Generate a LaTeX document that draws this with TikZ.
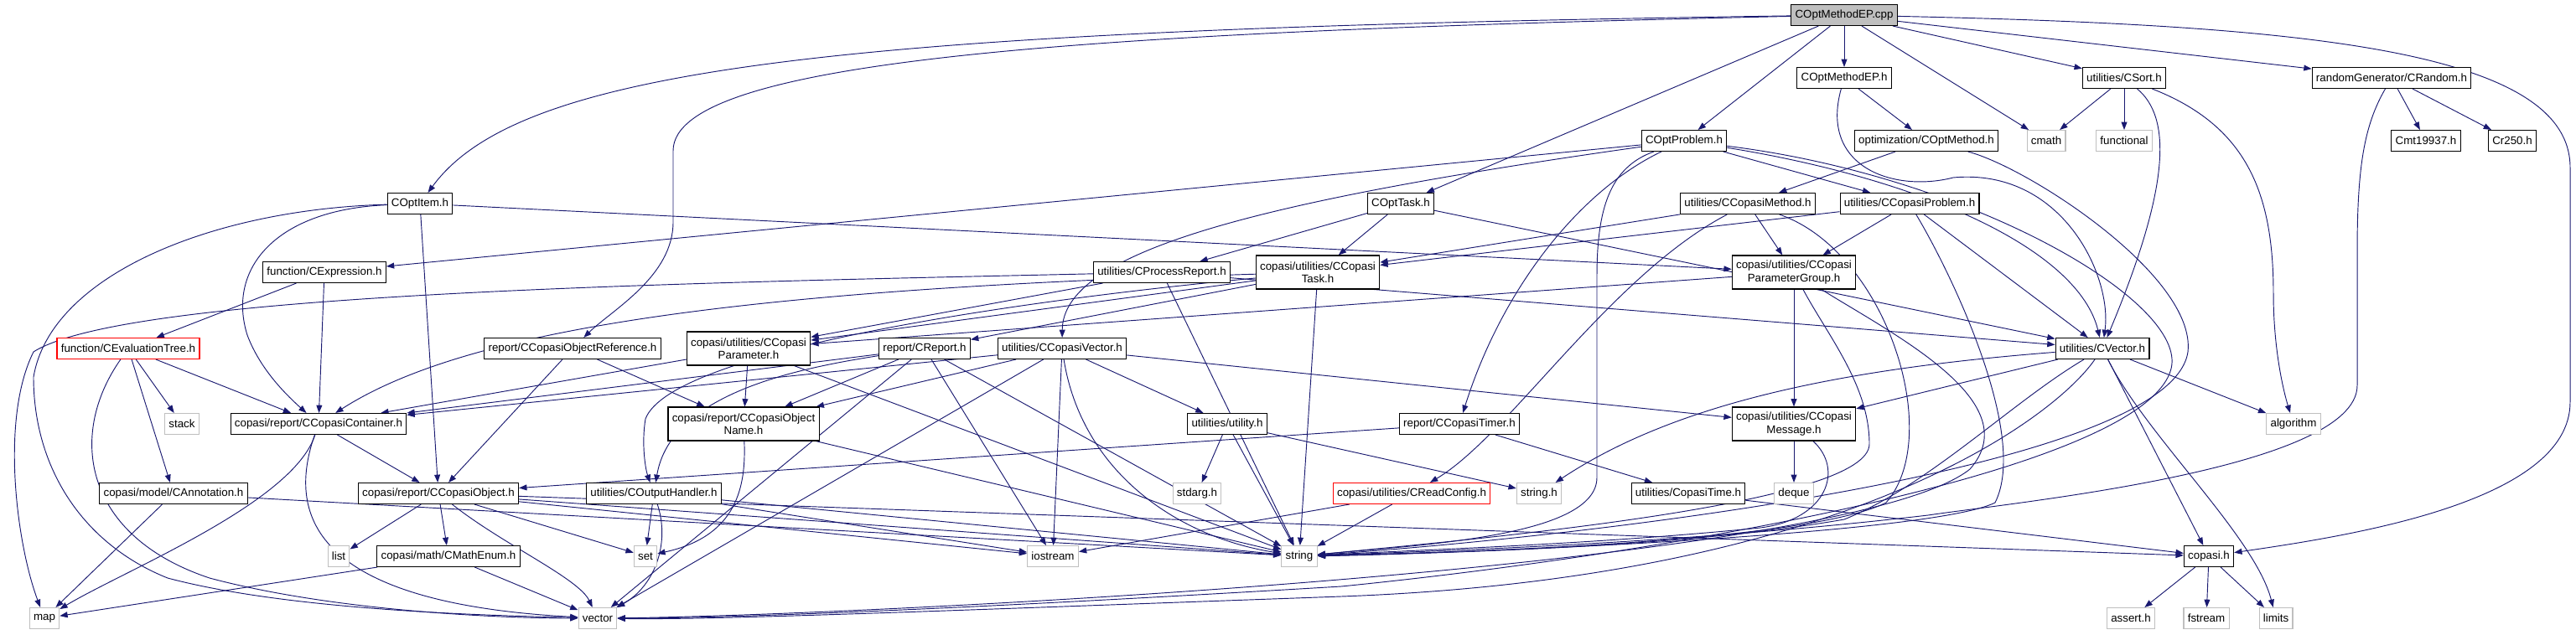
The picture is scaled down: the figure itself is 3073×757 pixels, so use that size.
\documentclass[tikz,border=0pt]{standalone}
\usepackage{fontspec}
\setmainfont{Liberation Sans}
\usepackage{tikz}
\usetikzlibrary{arrows.meta,backgrounds}
\definecolor{edgeblue}{HTML}{191970}
\definecolor{sysgray}{HTML}{BFBFBF}
\definecolor{rootgray}{HTML}{BFBFBF}
\tikzset{
  hdr/.style={draw=black, fill=white, line width=0.8pt, inner xsep=3.6pt,
    inner ysep=0pt, minimum height=18.75pt, align=center,
    font=\fontsize{10}{11.5}\selectfont},
  twohdr/.style={hdr, minimum height=30pt},
  syshdr/.style={hdr, draw=sysgray},
  redhdr/.style={hdr, draw=red},
  roothdr/.style={hdr, fill=rootgray},
  inc/.style={-{Triangle[length=7pt,width=5.2pt]}, draw=edgeblue, line width=0.7pt}
}

\begin{document}
\begin{tikzpicture}[x=0.75pt,y=-0.75pt]
  \useasboundingbox (0,0) rectangle (3073,757);
  % rank 0 and 1
  \node[roothdr] (cpp) at (2200,18) {COptMethodEP.cpp};
  \node[hdr] (epH) at (2200,93) {COptMethodEP.h};
  \node[hdr] (csort) at (2534,93) {utilities/CSort.h};
  \node[hdr] (crand) at (2853,93) {randomGenerator/CRandom.h};
  % rank 2
  \node[hdr] (optprob) at (2009,168) {COptProblem.h};
  \node[hdr] (optmeth) at (2298,168) {optimization/COptMethod.h};
  \node[syshdr] (cmath) at (2441,168) {cmath};
  \node[syshdr] (functional) at (2534,168) {functional};
  \node[hdr] (mt) at (2894,168) {Cmt19937.h};
  \node[hdr] (r250) at (2997,168) {Cr250.h};
  % rank 3
  \node[hdr] (optitem) at (501,243) {COptItem.h};
  \node[hdr] (opttask) at (1671,243) {COptTask.h};
  \node[hdr] (cmeth) at (2085,243) {utilities/CCopasiMethod.h};
  \node[hdr] (cprob) at (2278,243) {utilities/CCopasiProblem.h};
  % rank 4
  \node[hdr] (expr) at (387,325) {function/CExpression.h};
  \node[hdr] (procrep) at (1386,325) {utilities/CProcessReport.h};
  \node[twohdr] (ctask) at (1572,325) {copasi/utilities/CCopasi\\Task.h};
  \node[twohdr] (pgroup) at (2140,325) {copasi/utilities/CCopasi\\ParameterGroup.h};
  % rank 5
  \node[redhdr] (evtree) at (153,416) {function/CEvaluationTree.h};
  \node[hdr] (objref) at (683,416) {report/CCopasiObjectReference.h};
  \node[twohdr] (param) at (893,416) {copasi/utilities/CCopasi\\Parameter.h};
  \node[hdr] (report) at (1103,416) {report/CReport.h};
  \node[hdr] (cvec) at (1267,416) {utilities/CCopasiVector.h};
  \node[hdr] (vecH) at (2508,416) {utilities/CVector.h};
  % rank 6
  \node[syshdr] (stack) at (217,506) {stack};
  \node[hdr] (cont) at (380,506) {copasi/report/CCopasiContainer.h};
  \node[twohdr] (objname) at (887,506) {copasi/report/CCopasiObject\\Name.h};
  \node[hdr] (utility) at (1464,506) {utilities/utility.h};
  \node[hdr] (timer) at (1741,506) {report/CCopasiTimer.h};
  \node[twohdr] (msg) at (2140,506) {copasi/utilities/CCopasi\\Message.h};
  \node[syshdr] (algo) at (2736,506) {algorithm};
  % rank 7
  \node[hdr] (annot) at (207,589) {copasi/model/CAnnotation.h};
  \node[hdr] (cobj) at (523,589) {copasi/report/CCopasiObject.h};
  \node[hdr] (outh) at (780,589) {utilities/COutputHandler.h};
  \node[syshdr] (stdarg) at (1428,589) {stdarg.h};
  \node[redhdr] (readcfg) at (1684,589) {copasi/utilities/CReadConfig.h};
  \node[syshdr] (stringh) at (1836,589) {string.h};
  \node[hdr] (ctime) at (2014,589) {utilities/CopasiTime.h};
  \node[syshdr] (deque) at (2140,589) {deque};
  % rank 8
  \node[syshdr] (list) at (404,664) {list};
  \node[hdr] (mathenum) at (535,664) {copasi/math/CMathEnum.h};
  \node[syshdr] (set) at (770,664) {set};
  \node[syshdr] (iostream) at (1256,664) {iostream};
  \node[syshdr] (string) at (1550,664) {string};
  \node[hdr] (copasi) at (2635,664) {copasi.h};
  % rank 9
  \node[syshdr] (map) at (53,738) {map};
  \node[syshdr] (vector) at (713,738) {vector};
  \node[syshdr] (assert) at (2542,738) {assert.h};
  \node[syshdr] (fstream) at (2632,738) {fstream};
  \node[syshdr] (limits) at (2715,738) {limits};

  \begin{pgfonlayer}{background}
    % COptMethodEP.cpp
    \draw[inc] (cpp) .. controls (1000,35) and (620,80) .. (optitem);
    \draw[inc] (cpp) .. controls (1300,38) and (803,70) .. (803,180) -- (803,265)
      .. controls (803,330) and (730,370) .. (objref);
    \draw[inc] (cpp) -- (opttask);
    \draw[inc] (cpp) -- (optprob);
    \draw[inc] (cpp) -- (epH);
    \draw[inc] (cpp) -- (cmath);
    \draw[inc] (cpp) -- (csort);
    \draw[inc] (cpp) -- (crand);
    \draw[inc] (cpp) .. controls (2750,30) and (3066,60) .. (3066,200) -- (3066,480)
      .. controls (3066,600) and (2800,640) .. (copasi);
    % COptMethodEP.h
    \draw[inc] (epH) -- (optmeth);
    \draw[inc] (epH) .. controls (2170,200) and (2260,230) .. (2330,212)
      .. controls (2460,200) and (2520,330) .. (vecH);
    % COptProblem.h
    \draw[inc] (optprob) -- (expr);
    \draw[inc] (optprob) .. controls (1500,240) and (1268,300) .. (cvec);
    \draw[inc] (optprob) .. controls (1880,230) and (1790,350) .. (timer);
    \draw[inc] (optprob) .. controls (1920,200) and (1905,250) .. (1905,330) -- (1905,570)
      .. controls (1905,640) and (1700,650) .. (string);
    \draw[inc] (optprob) -- (cprob);
    \draw[inc] (optprob) .. controls (2300,215) and (2480,300) .. (vecH);
    \draw[inc] (optprob) .. controls (2350,210) and (2610,360) .. (2590,440)
      .. controls (2560,560) and (2000,660) .. (1600,700)
      .. controls (1100,730) and (850,738) .. (vector);
    % COptMethod.h and friends
    \draw[inc] (optmeth) -- (cmeth);
    \draw[inc] (optmeth) .. controls (2420,200) and (2620,330) .. (2610,420)
      .. controls (2590,560) and (1900,640) .. (string);
    \draw[inc] (opttask) -- (procrep);
    \draw[inc] (opttask) -- (ctask);
    \draw[inc] (opttask) -- (vecH);
    \draw[inc] (cmeth) -- (ctask);
    \draw[inc] (cmeth) -- (pgroup);
    \draw[inc] (cmeth) .. controls (1920,330) and (1800,520) .. (readcfg);
    \draw[inc] (cmeth) .. controls (2250,300) and (2320,520) .. (2250,600)
      .. controls (2150,650) and (1700,660) .. (string);
    \draw[inc] (cprob) -- (ctask);
    \draw[inc] (cprob) -- (pgroup);
    \draw[inc] (cprob) -- (vecH);
    \draw[inc] (cprob) .. controls (2330,330) and (2420,520) .. (2380,600)
      .. controls (2300,640) and (1700,662) .. (string);
    % CSort.h, CRandom.h
    \draw[inc] (csort) -- (cmath);
    \draw[inc] (csort) -- (functional);
    \draw[inc] (csort) .. controls (2590,140) and (2590,220) .. (vecH);
    \draw[inc] (csort) .. controls (2680,150) and (2712,230) .. (2712,350)
      .. controls (2712,420) and (2725,470) .. (algo);
    \draw[inc] (crand) -- (mt);
    \draw[inc] (crand) -- (r250);
    \draw[inc] (crand) .. controls (2820,150) and (2812,200) .. (2812,300) -- (2812,460)
      .. controls (2812,560) and (2400,600) .. (2300,615)
      .. controls (2000,650) and (1700,658) .. (string);
    % COptItem.h, CExpression.h, CProcessReport.h
    \draw[inc] (optitem) .. controls (330,250) and (270,320) .. (295,400)
      .. controls (310,440) and (340,470) .. (cont);
    \draw[inc] (optitem) .. controls (250,250) and (60,330) .. (40,450)
      .. controls (40,560) and (100,650) .. (200,690)
      .. controls (350,730) and (600,735) .. (vector);
    \draw[inc] (optitem) -- (cobj);
    \draw[inc] (optitem) -- (pgroup);
    \draw[inc] (expr) -- (evtree);
    \draw[inc] (expr) -- (cont);
    \draw[inc] (procrep) .. controls (800,338) and (150,350) .. (40,420)
      .. controls (0,500) and (20,650) .. (map);
    \draw[inc] (procrep) -- (param);
    \draw[inc] (procrep) -- (string);
    \draw[inc] (procrep) -- (vecH);
    % CCopasiTask.h, CCopasiParameterGroup.h
    \draw[inc] (ctask) -- (param);
    \draw[inc] (ctask) -- (report);
    \draw[inc] (ctask) .. controls (1200,360) and (800,420) .. (770,500)
      .. controls (765,530) and (770,560) .. (outh);
    \draw[inc] (ctask) .. controls (900,345) and (560,390) .. (cont);
    \draw[inc] (ctask) -- (string);
    \draw[inc] (pgroup) -- (param);
    \draw[inc] (pgroup) -- (msg);
    \draw[inc] (pgroup) .. controls (2180,400) and (2230,460) .. (2230,530)
      .. controls (2230,600) and (1800,640) .. (string);
    \draw[inc] (pgroup) .. controls (2260,400) and (2420,480) .. (2350,560)
      .. controls (2200,680) and (1000,735) .. (vector);
    % rank 5 headers
    \draw[inc] (evtree) -- (stack);
    \draw[inc] (evtree) -- (cont);
    \draw[inc] (evtree) -- (annot);
    \draw[inc] (evtree) .. controls (80,520) and (100,640) .. (250,690)
      .. controls (400,730) and (600,738) .. (vector);
    \draw[inc] (objref) -- (cobj);
    \draw[inc] (objref) -- (objname);
    \draw[inc] (param) -- (objname);
    \draw[inc] (param) -- (cont);
    \draw[inc] (param) -- (string);
    \draw[inc] (report) -- (objname);
    \draw[inc] (report) -- (cont);
    \draw[inc] (report) -- (iostream);
    \draw[inc] (report) -- (string);
    \draw[inc] (report) -- (vector);
    \draw[inc] (report) .. controls (950,440) and (800,470) .. (outh);
    \draw[inc] (cvec) -- (utility);
    \draw[inc] (cvec) -- (msg);
    \draw[inc] (cvec) -- (iostream);
    \draw[inc] (cvec) .. controls (1290,560) and (1400,640) .. (string);
    \draw[inc] (cvec) -- (vector);
    \draw[inc] (cvec) -- (objname);
    \draw[inc] (cvec) -- (cont);
    \draw[inc] (vecH) -- (algo);
    \draw[inc] (vecH) -- (copasi);
    \draw[inc] (vecH) .. controls (2560,520) and (2690,640) .. (limits);
    \draw[inc] (vecH) -- (msg);
    \draw[inc] (vecH) .. controls (2200,440) and (2000,480) .. (stringh);
    \draw[inc] (vecH) .. controls (2400,480) and (2300,580) .. (2200,620)
      .. controls (2000,655) and (1700,660) .. (string);
    \draw[inc] (vecH) .. controls (2450,500) and (2200,690) .. (1600,712)
      .. controls (1100,730) and (850,740) .. (vector);
    % rank 6 and below
    \draw[inc] (cont) -- (cobj);
    \draw[inc] (cont) .. controls (350,600) and (150,680) .. (map);
    \draw[inc] (cont) .. controls (340,620) and (380,720) .. (vector);
    \draw[inc] (objname) .. controls (890,580) and (880,640) .. (set);
    \draw[inc] (objname) -- (string);
    \draw[inc] (utility) -- (stdarg);
    \draw[inc] (utility) -- (string);
    \draw[inc] (utility) -- (stringh);
    \draw[inc] (timer) -- (ctime);
    \draw[inc] (timer) -- (cobj);
    \draw[inc] (msg) -- (deque);
    \draw[inc] (msg) .. controls (2200,560) and (2180,620) .. (2100,630)
      .. controls (1900,650) and (1700,656) .. (string);
    \draw[inc] (annot) -- (map);
    \draw[inc] (annot) -- (string);
    \draw[inc] (cobj) -- (list);
    \draw[inc] (cobj) -- (mathenum);
    \draw[inc] (cobj) -- (set);
    \draw[inc] (cobj) .. controls (600,650) and (690,690) .. (vector);
    \draw[inc] (cobj) -- (string);
    \draw[inc] (cobj) -- (iostream);
    \draw[inc] (cobj) -- (copasi);
    \draw[inc] (outh) -- (set);
    \draw[inc] (outh) .. controls (800,650) and (780,700) .. (vector);
    \draw[inc] (outh) -- (string);
    \draw[inc] (outh) -- (iostream);
    \draw[inc] (readcfg) -- (iostream);
    \draw[inc] (readcfg) -- (string);
    \draw[inc] (ctime) -- (copasi);
    \draw[inc] (mathenum) -- (map);
    \draw[inc] (mathenum) -- (vector);
    \draw[inc] (copasi) -- (assert);
    \draw[inc] (copasi) -- (fstream);
    \draw[inc] (copasi) -- (limits);
  \end{pgfonlayer}
\end{tikzpicture}
\end{document}
